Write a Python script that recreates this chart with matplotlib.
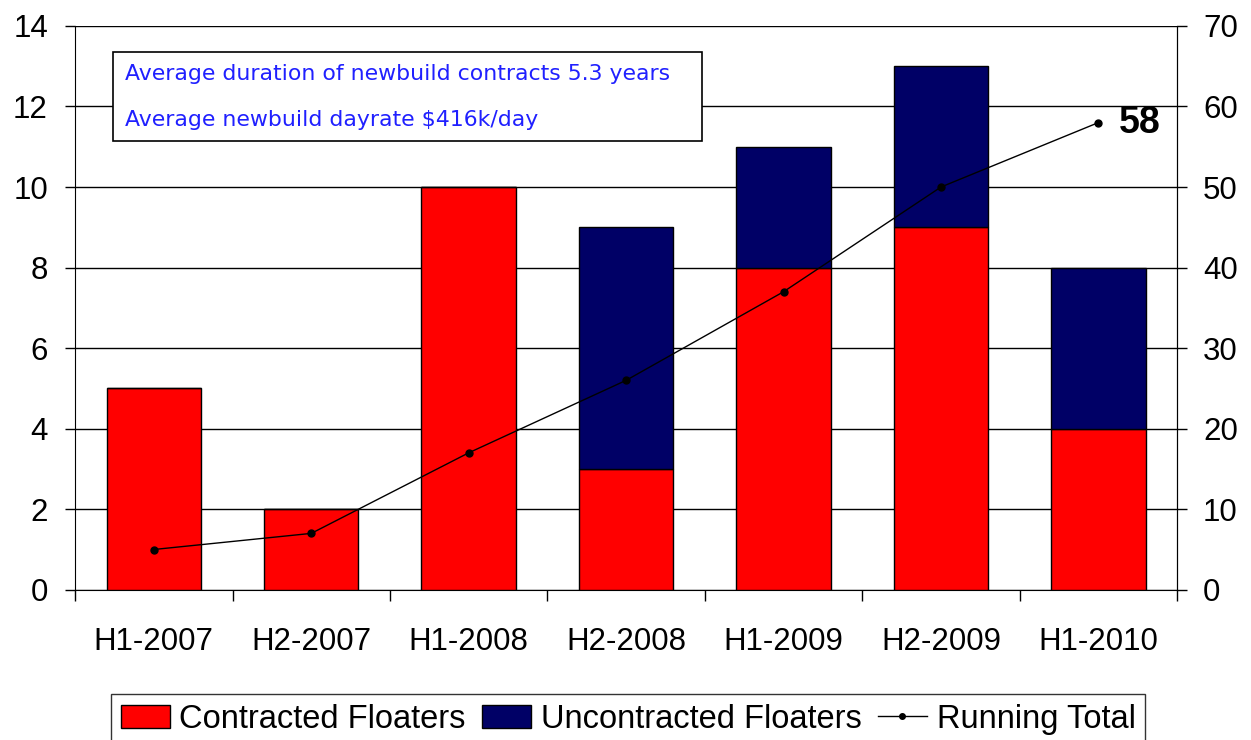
import numpy as np
import matplotlib.pyplot as plt
from matplotlib.lines import Line2D
from matplotlib.patches import Patch, Rectangle

plt.rcParams['font.family'] = ['Liberation Sans', 'DejaVu Sans']

periods = ['H1-2007', 'H2-2007', 'H1-2008', 'H2-2008', 'H1-2009', 'H2-2009', 'H1-2010']
contracted = [5, 2, 10, 3, 8, 9, 4]
uncontracted = [0, 0, 0, 6, 3, 4, 4]
running_total = [5, 7, 17, 26, 37, 50, 58]
notes = ['Average duration of newbuild contracts 5.3 years',
         'Average newbuild dayrate $416k/day']

fig = plt.figure(figsize=(12.51, 7.40), dpi=100)
ax = fig.add_axes([0.06, 0.203, 0.881, 0.762])
x = np.arange(len(periods))

ax.bar(x, contracted, width=0.6, color='#ff0000', edgecolor='black', linewidth=1, zorder=3)
ax.bar(x, uncontracted, width=0.6, bottom=contracted, color='#000066',
       edgecolor='black', linewidth=1, zorder=3)

ax.set_ylim(0, 14)
ax.set_yticks(range(0, 15, 2))
ax.set_xlim(-0.5, len(periods) - 0.5)
ax.yaxis.grid(True, color='black', linewidth=1, zorder=0)
ax.set_axisbelow(True)

# x ticks at category boundaries, labels centred under bars
ax.set_xticks(np.arange(-0.5, len(periods), 1.0))
ax.set_xticklabels([])
ax.set_xticks(x, minor=True)
ax.set_xticklabels(periods, minor=True)
ax.tick_params(axis='x', which='minor', length=0, pad=27, labelsize=22.5)
ax.tick_params(axis='x', which='major', direction='out', length=8, width=1)
ax.tick_params(axis='y', direction='out', length=7.5, width=1, labelsize=22.5, pad=12)
ax.spines['top'].set_visible(False)

ax2 = ax.twinx()
ax2.plot(x, running_total, color='black', linewidth=1, marker='o', markersize=5, zorder=5)
ax2.set_ylim(0, 70)
ax2.set_yticks(range(0, 71, 10))
ax2.tick_params(axis='y', direction='out', length=7.5, width=1, labelsize=22.5, pad=11)
for s in ['top', 'left', 'bottom']:
    ax2.spines[s].set_visible(False)
ax2.annotate(str(running_total[-1]), (x[-1], running_total[-1]), xytext=(15, 0),
             textcoords='offset points', va='center', ha='left',
             fontsize=27, fontweight='bold')

# info box with the two notes
ax2.add_patch(Rectangle((0.0345, 0.796), 0.534, 0.158, transform=ax.transAxes,
                        facecolor='white', edgecolor='black', linewidth=1.2, zorder=10))
for note, yy in zip(notes, [0.915, 0.833]):
    ax2.text(0.0454, yy, note, transform=ax.transAxes, va='center', ha='left',
             fontsize=15.8, color='#2020ff', family='DejaVu Sans', zorder=11)

handles = [Patch(facecolor='#ff0000', edgecolor='black'),
           Patch(facecolor='#000066', edgecolor='black'),
           Line2D([0], [0], color='black', linewidth=1, marker='o', markersize=4)]
labels = ['Contracted Floaters', 'Uncontracted Floaters', 'Running Total']
fig.legend(handles, labels, loc='lower center', bbox_to_anchor=(0.502, -0.028), ncol=3,
           fontsize=23.5, frameon=True, fancybox=False, edgecolor='black',
           handlelength=1.5, handletextpad=0.3, columnspacing=0.5, borderpad=0.3)

fig.savefig('out.png', dpi=100)
